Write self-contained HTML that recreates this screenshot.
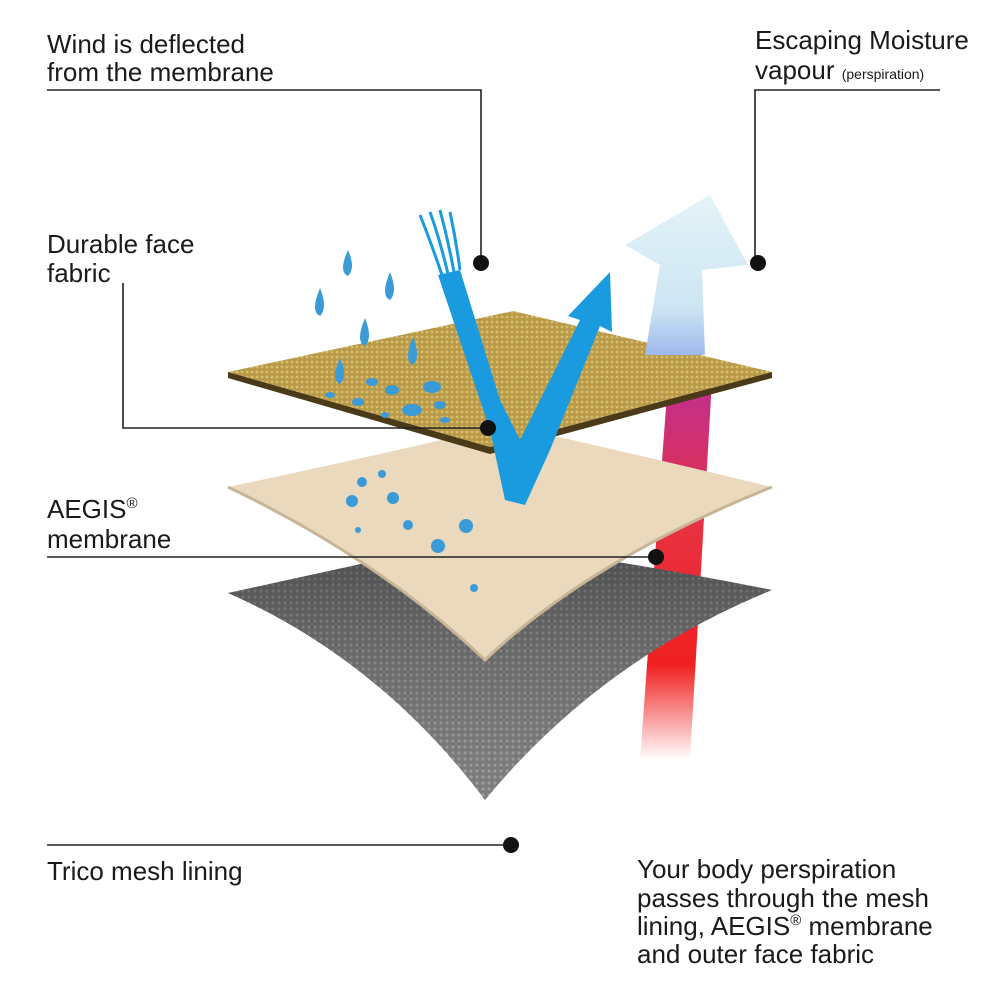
<!DOCTYPE html>
<html><head><meta charset="utf-8"><style>
body{margin:0;background:#fff}
svg text{font-family:"Liberation Sans",sans-serif;fill:#1a1a1a}
</style></head><body>
<svg width="1000" height="1000" viewBox="0 0 1000 1000" xmlns="http://www.w3.org/2000/svg">
<defs>
<linearGradient id="red" x1="0" y1="1" x2="0" y2="0">
<stop offset="0" stop-color="#fff"/><stop offset="0.25" stop-color="#f02020"/><stop offset="0.6" stop-color="#e83040"/><stop offset="1" stop-color="#c03090"/></linearGradient>
<linearGradient id="lb" x1="0" y1="1" x2="0" y2="0">
<stop offset="0" stop-color="#9fb8ee"/><stop offset="0.3" stop-color="#cde6f4"/><stop offset="1" stop-color="#e4f3f7"/></linearGradient>
<pattern id="mesh" width="6" height="6" patternUnits="userSpaceOnUse"><rect width="6" height="6" fill="#6a6a6a"/><circle cx="3" cy="3" r="1.6" fill="#9a9a9a"/></pattern>
<pattern id="fab" width="5" height="5" patternUnits="userSpaceOnUse"><rect width="5" height="5" fill="#b89a48"/><circle cx="2" cy="2" r="1.4" fill="#d8bf70"/></pattern>
<linearGradient id="meshsh" x1="0" y1="0" x2="0" y2="1"><stop offset="0" stop-color="#333" stop-opacity="0.6"/><stop offset="1" stop-color="#aaa" stop-opacity="0.3"/></linearGradient>
</defs>
<!-- red perspiration band -->
<polygon points="640,760 690,760 712,380 668,380" fill="url(#red)"/>
<!-- mesh -->
<path d="M228,593 Q380,560 470,540 Q620,560 772,590 Q600,660 485,800 Q380,660 228,593Z" fill="url(#mesh)"/>
<path d="M228,593 Q380,560 470,540 Q620,560 772,590 Q600,660 485,800 Q380,660 228,593Z" fill="url(#meshsh)"/>
<!-- membrane -->
<path d="M228,487 Q380,455 505,425 Q640,455 772,487 Q590,560 485,660 Q380,560 228,487Z" fill="#ead9bc"/>
<path d="M228,487 Q380,560 485,660 Q590,560 772,487" fill="none" stroke="#c8b598" stroke-width="3"/>
<!-- fabric -->
<polygon points="228,372 513,311 772,372 490,447" fill="url(#fab)"/>
<polygon points="228,372 490,447 772,372 772,378 490,454 228,378" fill="#4a3a18"/>
<!-- blue wind arrow -->
<path d="M438,275 L460,270 L500,400 L520,440 L545,390 L580,320 L568,316 L610,272 L612,332 L600,326 L550,450 L525,505 L505,500 L490,430 Z" fill="#1a9be0"/>
<g stroke="#1a9be0" stroke-width="3" fill="none">
<path d="M442,275 Q430,240 420,215"/><path d="M448,274 Q440,240 430,212"/><path d="M454,272 Q448,240 440,210"/><path d="M460,270 Q456,240 450,212"/></g>
<!-- light blue arrow -->
<polygon points="645,355 705,355 702,270 748,265 710,195 625,245 660,265" fill="url(#lb)"/>
<!-- drops -->
<g fill="#3a9bd6">
<path d="M348,250 q8,18 0,26 q-10,-4 0,-26Z"/><path d="M320,288 q8,20 0,28 q-10,-4 0,-28Z"/><path d="M390,272 q8,20 0,28 q-10,-4 0,-28Z"/><path d="M365,318 q8,20 0,28 q-10,-4 0,-28Z"/><path d="M413,337 q8,20 0,28 q-10,-4 0,-28Z"/><path d="M340,358 q8,18 0,26 q-10,-4 0,-26Z"/>
<ellipse cx="372" cy="382" rx="6" ry="4"/><ellipse cx="392" cy="390" rx="7" ry="5"/><ellipse cx="432" cy="387" rx="9" ry="6"/><ellipse cx="358" cy="402" rx="6" ry="4"/><ellipse cx="412" cy="410" rx="10" ry="6"/><ellipse cx="440" cy="405" rx="6" ry="4"/><ellipse cx="330" cy="395" rx="5" ry="3"/><ellipse cx="445" cy="420" rx="5" ry="3"/><ellipse cx="385" cy="415" rx="4" ry="3"/>
<circle cx="382" cy="474" r="4"/><circle cx="362" cy="482" r="5"/><circle cx="393" cy="498" r="6"/><circle cx="352" cy="501" r="6"/><circle cx="408" cy="525" r="5"/><circle cx="466" cy="526" r="7"/><circle cx="438" cy="546" r="7"/><circle cx="474" cy="588" r="4"/><circle cx="358" cy="530" r="3"/>
</g>
<!-- leader lines -->
<g stroke="#222" stroke-width="1.6" fill="none">
<polyline points="47,90 481,90 481,263"/>
<polyline points="940,90 755,90 755,263"/>
<polyline points="123,283 123,428 488,428"/>
<line x1="47" y1="557" x2="656" y2="557"/>
<line x1="47" y1="845" x2="511" y2="845"/>
</g>
<g fill="#111"><circle cx="481" cy="263" r="8"/><circle cx="758" cy="263" r="8"/><circle cx="488" cy="428" r="8"/><circle cx="656" cy="557" r="8"/><circle cx="511" cy="845" r="8"/></g>
<g font-size="26">
<text x="47" y="53">Wind is deflected</text><text x="47" y="81">from the membrane</text>
<text x="755" y="49">Escaping Moisture</text><text x="755" y="79">vapour <tspan font-size="14">(perspiration)</tspan></text>
<text x="47" y="253">Durable face</text><text x="47" y="282">fabric</text>
<text x="47" y="518">AEGIS<tspan font-size="15" dy="-10">®</tspan></text><text x="47" y="548">membrane</text>
<text x="47" y="880">Trico mesh lining</text>
<text x="637" y="878">Your body perspiration</text><text x="637" y="907">passes through the mesh</text><text x="637" y="935">lining, AEGIS<tspan font-size="15" dy="-10">®</tspan><tspan dy="10"> membrane</tspan></text><text x="637" y="963">and outer face fabric</text>
</g>
</svg>
</body></html>
